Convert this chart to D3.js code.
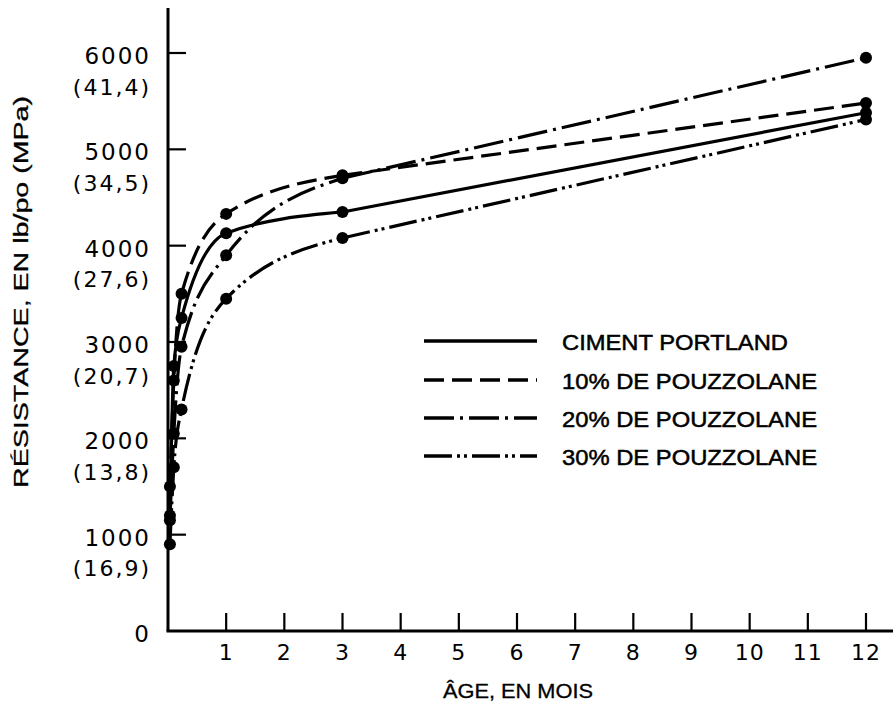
<!DOCTYPE html>
<html>
<head>
<meta charset="utf-8">
<script src="https://cdn.jsdelivr.net/npm/d3@7"></script>
<style>
  body { margin: 0; background: #fff; }
  svg { display: block; }
</style>
</head>
<body>
<script>
// age in months (1 day, 3 days, 7 days, 1, 3, 12 months)
const ages = [0.033, 0.1, 0.233, 1, 3, 12];

// strength in lb/po²
const portland = [1200, 2750, 3250, 4130, 4350, 5380];
const pz10 = [1500, 2600, 3500, 4330, 4730, 5480];
const pz20 = [1150, 2050, 2950, 3900, 4700, 5950];
const pz30 = [900, 1700, 2300, 3450, 4080, 5310];

const seriesNames = ["CIMENT PORTLAND", "10% DE POUZZOLANE", "20% DE POUZZOLANE", "30% DE POUZZOLANE"];
const dashes = [null, "20,8", "30,6,3,6", "28,5,3,4,3,5"];

const xTicks = [1, 2, 3, 4, 5, 6, 7, 8, 9, 10, 11, 12];
const yTicks = [0, 1000, 2000, 3000, 4000, 5000, 6000];
const yMpa = ["", "(16,9)", "(13,8)", "(20,7)", "(27,6)", "(34,5)", "(41,4)"];

const width = 895, height = 706;

const svg = d3.select("body").append("svg")
  .attr("width", width)
  .attr("height", height);

const x = d3.scaleLinear().domain([0, 12]).range([168, 866]);
const y = d3.scaleLinear().domain([0, 6000]).range([631, 53]);

// axes, drawn by hand since ticks point inward and labels sit far away
svg.append("line")
  .attr("x1", x(0)).attr("x2", x(0))
  .attr("y1", 8).attr("y2", y(0))
  .attr("stroke", "#000").attr("stroke-width", 3);

svg.append("line")
  .attr("x1", x(0) - 1.5).attr("x2", 893)
  .attr("y1", y(0)).attr("y2", y(0))
  .attr("stroke", "#000").attr("stroke-width", 3);

svg.selectAll(".xtick")
  .data(xTicks)
  .enter().append("line")
  .attr("class", "xtick")
  .attr("x1", d => x(d)).attr("x2", d => x(d))
  .attr("y1", y(0)).attr("y2", y(0) - 18)
  .attr("stroke", "#000").attr("stroke-width", 2.2);

svg.selectAll(".xlab")
  .data(xTicks)
  .enter().append("text")
  .attr("class", "xlab")
  .attr("x", d => x(d))
  .attr("y", 652)
  .attr("text-anchor", "middle")
  .attr("dominant-baseline", "central")
  .attr("font-family", "DejaVu Sans")
  .attr("font-size", 22)
  .attr("letter-spacing", 1)
  .text(d => d);

svg.selectAll(".ytick")
  .data(yTicks.filter(d => d > 0))
  .enter().append("line")
  .attr("class", "ytick")
  .attr("x1", x(0)).attr("x2", x(0) + 18)
  .attr("y1", d => y(d)).attr("y2", d => y(d))
  .attr("stroke", "#000").attr("stroke-width", 2.2);

svg.selectAll(".ylab")
  .data(yTicks)
  .enter().append("text")
  .attr("class", "ylab")
  .attr("x", 151)
  .attr("y", d => y(d) + 3)
  .attr("text-anchor", "end")
  .attr("dominant-baseline", "central")
  .attr("font-family", "DejaVu Sans")
  .attr("font-size", 23)
  .attr("letter-spacing", 2)
  .text(d => d);

svg.selectAll(".ympa")
  .data(yTicks)
  .enter().append("text")
  .attr("class", "ympa")
  .attr("x", 151)
  .attr("y", d => y(d) + 34)
  .attr("text-anchor", "end")
  .attr("dominant-baseline", "central")
  .attr("font-family", "DejaVu Sans")
  .attr("font-size", 22)
  .attr("letter-spacing", 2)
  .text((d, i) => yMpa[i]);

// axis titles
svg.append("text")
  .attr("transform", "translate(21,292) rotate(-90)")
  .attr("text-anchor", "middle")
  .attr("dominant-baseline", "central")
  .attr("font-family", "Liberation Sans")
  .attr("font-size", 20)
  .attr("stroke", "#000").attr("stroke-width", 0.3)
  .attr("textLength", 392)
  .attr("lengthAdjust", "spacingAndGlyphs")
  .text("RÉSISTANCE, EN lb/po (MPa)");

svg.append("text")
  .attr("x", 518)
  .attr("y", 691)
  .attr("text-anchor", "middle")
  .attr("dominant-baseline", "central")
  .attr("font-family", "Liberation Sans")
  .attr("font-size", 20)
  .attr("stroke", "#000").attr("stroke-width", 0.3)
  .attr("textLength", 150)
  .attr("lengthAdjust", "spacingAndGlyphs")
  .text("ÂGE, EN MOIS");

// curves: smooth up to 3 months, straight from 3 to 12 months
const allSeries = [portland, pz10, pz20, pz30];

const smooth = d3.line()
  .x(d => x(d[0]))
  .y(d => y(d[1]))
  .curve(d3.curveMonotoneX);

const straight = d3.line()
  .x(d => x(d[0]))
  .y(d => y(d[1]));

allSeries.forEach(function(vals, i) {
  const pts = ages.map((a, j) => [a, vals[j]]);

  svg.append("path")
    .datum(pts.slice(0, 5))
    .attr("d", smooth)
    .attr("fill", "none")
    .attr("stroke", "#000")
    .attr("stroke-width", 3.2)
    .attr("stroke-dasharray", dashes[i]);

  svg.append("path")
    .datum(pts.slice(4))
    .attr("d", straight)
    .attr("fill", "none")
    .attr("stroke", "#000")
    .attr("stroke-width", 3.2)
    .attr("stroke-dasharray", dashes[i]);

  svg.selectAll(".dot" + i)
    .data(pts)
    .enter().append("circle")
    .attr("class", "dot" + i)
    .attr("cx", d => x(d[0]))
    .attr("cy", d => y(d[1]))
    .attr("r", 6)
    .attr("fill", "#000");
});

// legend
const legendY = [341, 380, 418, 456];
const legendW = [226, 255, 255, 255];

seriesNames.forEach(function(name, i) {
  svg.append("line")
    .attr("x1", 424).attr("x2", 537)
    .attr("y1", legendY[i]).attr("y2", legendY[i])
    .attr("stroke", "#000")
    .attr("stroke-width", 3.5)
    .attr("stroke-dasharray", dashes[i]);

  svg.append("text")
    .attr("x", 562)
    .attr("y", legendY[i] + 1)
    .attr("dominant-baseline", "central")
    .attr("font-family", "Liberation Sans")
    .attr("font-size", 22)
    .attr("stroke", "#000").attr("stroke-width", 0.5)
    .attr("textLength", legendW[i])
    .attr("lengthAdjust", "spacingAndGlyphs")
    .text(name);
});
</script>
</body>
</html>
